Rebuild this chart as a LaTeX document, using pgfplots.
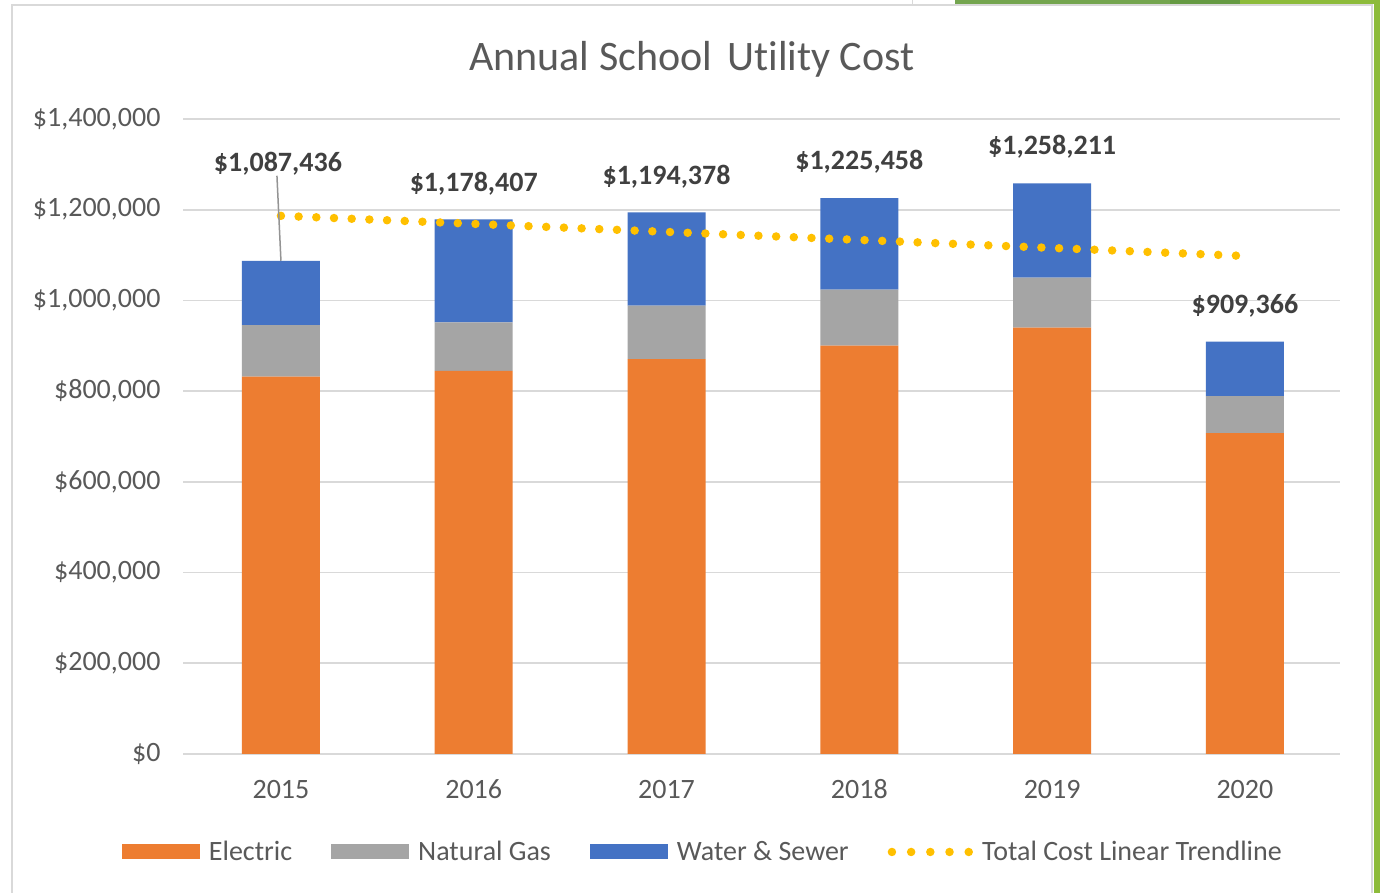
\documentclass[border=0pt]{standalone}
\usepackage{fontspec}
\setmainfont{Carlito}[Ligatures={NoCommon}]
\usepackage{pgfplots}
\usepackage{pgfplotstable}
\pgfplotsset{compat=1.18}

\definecolor{elec}{HTML}{ED7D31}
\definecolor{gas}{HTML}{A5A5A5}
\definecolor{water}{HTML}{4472C4}
\definecolor{trend}{HTML}{FFC000}
\definecolor{gridgray}{HTML}{D9D9D9}
\definecolor{labelgray}{HTML}{595959}
\definecolor{valgray}{HTML}{404040}
\definecolor{framegray}{HTML}{D9D9D9}
\definecolor{greenA}{HTML}{74A54F}
\definecolor{greenB}{HTML}{659A42}
\definecolor{greenC}{HTML}{8DBB3A}

% stacked costs per year (2015 = 0)
\pgfplotstableread{
year electric gas water
0 831800 114000 141636
1 844400 107300 226707
2 870800 117500 206078
3 900100 123500 201858
4 939800 110200 208211
5 707700 81500 120166
}\costs

% linear trendline of the yearly totals
\pgfplotstableread{
year total
0 1186484
5 1097934
}\trendline

\begin{document}
\begin{tikzpicture}[x=1pt,y=1pt]
\useasboundingbox (0,0) rectangle (1380,893);
\fill[white] (0,0) rectangle (1380,893);
% chart frame and window edges
\draw[framegray, line width=2pt] (12,-5) -- (12,888) -- (1372,888) -- (1372,-5);
\fill[greenA] (955,889) rectangle (1170,893);
\fill[greenB] (1170,889) rectangle (1240,893);
\fill[greenC] (1240,889) rectangle (1380,893);
\fill[greenC] (1374,0) rectangle (1380,893);
\draw[framegray, line width=1pt] (912,889) -- (912,893);

\node[font=\fontsize{42}{50}\selectfont, text=labelgray] at (692,834) {Annual School\hspace{6pt} Utility Cost};

\begin{axis}[
at={(183pt,139pt)}, anchor=south west,
scale only axis, width=1157pt, height=635pt,
xmin=-0.508, xmax=5.493, ymin=0, ymax=1400000,
ybar stacked, bar width=78pt,
axis line style={draw=none},
major tick length=0pt,
ymajorgrids, grid style={gridgray, line width=1.8pt},
xtick={0,1,2,3,4,5},
xticklabels={2015,2016,2017,2018,2019,2020},
ytick={0,200000,400000,600000,800000,1000000,1200000,1400000},
yticklabels={{\$0},{\$200,000},{\$400,000},{\$600,000},{\$800,000},{\$1,000,000},{\$1,200,000},{\$1,400,000}},
scaled y ticks=false,
tick label style={font=\fontsize{28}{34}\selectfont, text=labelgray},
yticklabel style={anchor=east, xshift=-19pt},
xticklabel style={anchor=base, yshift=-45pt},
legend columns=4,
legend style={draw=none, fill=none, at={(0.4485,-0.1543)}, anchor=center,
  font=\fontsize{28}{34}\selectfont, text=labelgray,
  nodes={inner sep=0pt}, column sep=9pt,
  /tikz/every even column/.append style={column sep=39pt}},
]
\addplot[fill=elec, draw=none,
  legend image code/.code={\fill[elec] (0pt,-7.5pt) rectangle (78pt,7.5pt);}]
  table[x=year, y=electric] {\costs};
\addplot[fill=gas, draw=none,
  legend image code/.code={\fill[gas] (0pt,-7.5pt) rectangle (78pt,7.5pt);}]
  table[x=year, y=gas] {\costs};
\addplot[fill=water, draw=none,
  legend image code/.code={\fill[water] (0pt,-7.5pt) rectangle (78pt,7.5pt);}]
  table[x=year, y=water] {\costs};
\addlegendimage{legend image code/.code={\draw[trend, line width=8.5pt, line cap=round, dash pattern=on 0pt off 19.2pt] (0pt,0pt) -- (77pt,0pt);}}
\addlegendentry{Electric}
\addlegendentry{Natural Gas}
\addlegendentry{Water \& Sewer}
\addlegendentry{Total Cost Linear Trendline}
\end{axis}

\begin{axis}[
at={(183pt,139pt)}, anchor=south west,
scale only axis, width=1157pt, height=635pt,
xmin=-0.508, xmax=5.493, ymin=0, ymax=1400000,
hide axis, clip=false,
]
\addplot[trend, line width=8.5pt, line cap=round, dash pattern=on 0pt off 17.7pt]
  table[x=year, y=total] {\trendline};
\begin{scope}[every node/.style={font=\bfseries\fontsize{28}{34}\selectfont, text=valgray, anchor=base}]
\draw[gas!90!black, line width=1.5pt] (axis cs:0,1087436) -- ++(-4pt,85pt);
\node[xshift=-3pt, yshift=89pt] at (axis cs:0,1087436) {\$1,087,436};
\node[yshift=28pt] at (axis cs:1,1178407) {\$1,178,407};
\node[yshift=28pt] at (axis cs:2,1194378) {\$1,194,378};
\node[yshift=29pt] at (axis cs:3,1225458) {\$1,225,458};
\node[yshift=29pt] at (axis cs:4,1258211) {\$1,258,211};
\node[yshift=28pt] at (axis cs:5,909366) {\$909,366};
\end{scope}
\end{axis}
\end{tikzpicture}
\end{document}
